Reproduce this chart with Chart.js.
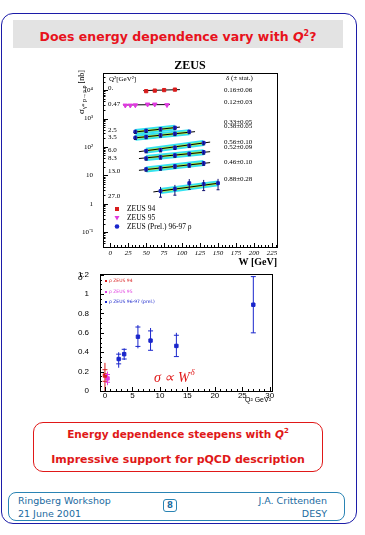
<!DOCTYPE html>
<html>
<head>
<meta charset="utf-8">
<script src="https://cdn.jsdelivr.net/npm/chart.js@4.4.1/dist/chart.umd.min.js"></script>
<style>
  * { box-sizing: border-box; }
  body { margin:0; width:365px; height:535px; position:relative; overflow:hidden; background:#fff; font-family:"DejaVu Sans", sans-serif; }
  .abs { position:absolute; }
  #frame { left:1px; top:13px; width:356px; height:511px; border:1.5px solid #1c1ca8; border-radius:12px; }
  #title { left:13px; top:20px; width:330px; height:28px; background:#e3e3e3; color:#e8121c; font-weight:bold; font-size:12.5px; text-align:center; line-height:28px; white-space:nowrap; }
  #note { left:33px; top:422px; width:290px; height:50px; border:1.3px solid #e01818; border-radius:10px; color:#e01818; font-weight:bold; text-align:center; white-space:nowrap; }
  #note .l1 { position:absolute; left:0; right:0; top:4px; font-size:10.5px; }
  #note .l2 { position:absolute; left:0; right:0; top:30px; font-size:11px; }
  #foot { left:8px; top:492px; width:337px; height:29px; border:1.2px solid #2a84b4; border-radius:8px; color:#1a6aa0; font-size:9.5px; }
  #foot div { position:absolute; white-space:nowrap; }
  #page { left:163px; top:499px; width:14px; height:13px; border:1.2px solid #2a84b4; border-radius:3px; color:#1a6aa0; font-size:8.5px; text-align:center; line-height:11px; font-weight:bold; }
  canvas { position:absolute; }
</style>
</head>
<body>
<div id="frame" class="abs"></div>
<div id="title" class="abs">Does energy dependence vary with <i>Q</i><sup style="font-size:8px">2</sup>?</div>

<canvas id="topChart" width="232" height="214" style="left:55px;top:56px"></canvas>
<canvas id="botChart" width="230" height="150" style="left:55px;top:262px"></canvas>

<div id="note" class="abs">
  <div class="l1">Energy dependence steepens with <i>Q</i><sup style="font-size:7px">2</sup></div>
  <div class="l2">Impressive support for pQCD description</div>
</div>

<div id="foot" class="abs">
  <div style="left:9px;top:2px">Ringberg Workshop</div>
  <div style="left:9px;top:15px">21 June 2001</div>
  <div style="right:17px;top:2px">J.A. Crittenden</div>
  <div style="right:17px;top:15px">DESY</div>
</div>
<div id="page" class="abs">8</div>

<script>
// ---- top panel: sigma(gamma* p -> rho p) vs W, one row per Q2 bin ----
const q2Bins = ['0.', '0.47', '2.5', '3.5', '6.0', '8.3', '13.0', '27.0'];
const deltaText = ['0.16±0.06', '0.12±0.03', '0.33±0.05', '0.38±0.05', '0.56±0.10', '0.52±0.09', '0.46±0.10', '0.88±0.28'];

const wZeus94 = [50, 62, 75, 90];
const sigZeus94 = [9200, 9600, 10000, 10400];
const wZeus95 = [21, 28, 35, 52, 62, 79];
const sigZeus95 = [2900, 2900, 2950, 3150, 3150, 3000];

// ZEUS (prel.) 96-97, Q2 = 2.5, 3.5, 6.0, 8.3, 13.0, 27.0
const wBlue = [[35, 50, 70, 90], [35, 50, 70, 90, 110], [50, 70, 90, 110, 130], [50, 70, 90, 110, 130], [50, 70, 90, 110, 130], [70, 90, 110, 130, 150]];
const sigBlue = [[347, 376, 427, 479], [214, 229, 260, 295, 347], [73, 79, 96, 113, 140], [40, 44, 51, 58, 66], [16.5, 18, 21, 23, 27], [2.8, 3.3, 5.3, 4.9, 5.3]];
const errBlue = [[50, 55, 65, 75], [32, 35, 40, 45, 55], [11, 12, 15, 18, 22], [6, 7, 8, 9, 11], [2.6, 2.9, 3.4, 3.8, 4.6], [1.1, 1.3, 2.1, 2.0, 2.2]];

// fit lines (all 8 rows) and error bands (blue rows)
const fitW = [[46, 97], [18, 83], [32, 97], [32, 118], [40, 139], [40, 139], [40, 139], [60, 151]];
const fitSig = [[9600, 10400], [3000, 3100], [330, 500], [205, 345], [68, 148], [39, 68], [15, 28], [2.6, 5.3]];
const bandW = [[35, 90], [35, 110], [50, 130], [50, 130], [50, 130], [70, 150]];
const bandSig = [[337, 478], [209, 330], [74, 138], [41, 65], [16, 27], [2.8, 5.2]];

const wTicks = [0, 25, 50, 75, 100, 125, 150, 175, 200, 225];
const sigTicks = [0.1, 1, 10, 100, 1000, 10000];
const sigTickLabels = ['10⁻¹', '1', '10', '10²', '10³', '10⁴'];

// ---- bottom panel: delta vs Q2 ----
const q2Delta = [0, 0.47, 2.5, 3.5, 6.0, 8.3, 13.0, 27.0];
const deltaVal = [0.16, 0.13, 0.33, 0.38, 0.56, 0.52, 0.465, 0.89];
const deltaStat = [0.06, 0.04, 0.05, 0.05, 0.10, 0.10, 0.11, 0.29];
const deltaTotUp = [0.13, 0.07, 0.07, 0.06, 0.12, 0.13, 0.135, 0.29];
const deltaTotDn = [0.16, 0.07, 0.09, 0.06, 0.12, 0.10, 0.11, 0.29];
const q2Ticks = [0, 5, 10, 15, 20, 25, 30];
const deltaTicks = [0, 0.2, 0.4, 0.6, 0.8, 1.0, 1.2];

const RED = '#d81c1c', MAG = '#e03ae0', BLUE = '#1a26cc';
const OX = 55, OY = 56;   // top canvas offset on page

function pts(xs, ys) { return xs.map((v, i) => ({ x: v, y: ys[i] })); }

const topSets = [];
topSets.push({ data: pts(wZeus94, sigZeus94), pointStyle: 'rect', pointRadius: 2.3, backgroundColor: RED, borderColor: RED, order: 0 });
topSets.push({ data: pts(wZeus95, sigZeus95), pointStyle: 'triangle', rotation: 180, pointRadius: 2.6, backgroundColor: MAG, borderColor: MAG, order: 0 });
wBlue.forEach((w, i) => {
  topSets.push({ data: pts(w, sigBlue[i]), errs: errBlue[i], pointStyle: 'rect', pointRadius: 2, backgroundColor: BLUE, borderColor: BLUE, order: 0 });
});
fitW.forEach((w, i) => {
  topSets.push({ data: pts(w, fitSig[i]), showLine: true, borderColor: '#000', borderWidth: 1, pointRadius: 0, order: 1 });
});
bandW.forEach((w, i) => {
  topSets.push({ data: pts(w, bandSig[i]), showLine: true, borderColor: '#b4ec44', borderWidth: 2.4, pointRadius: 0, order: 2 });
  topSets.push({ data: pts(w, bandSig[i]), showLine: true, borderColor: '#34e2f0', borderWidth: 6, pointRadius: 0, order: 3 });
});

const topDeco = {
  id: 'topDeco',
  afterDatasetsDraw(chart) {
    const { ctx, chartArea: { left, top, right, bottom }, scales: { x, y } } = chart;
    ctx.save();
    // error bars
    ctx.strokeStyle = '#101070';
    ctx.lineWidth = 1;
    chart.data.datasets.forEach((ds, i) => {
      if (!ds.errs) return;
      chart.getDatasetMeta(i).data.forEach((p, j) => {
        const v = ds.data[j].y, e = ds.errs[j];
        const y1 = y.getPixelForValue(v + e), y2 = y.getPixelForValue(v - e);
        ctx.beginPath();
        ctx.moveTo(p.x, y1); ctx.lineTo(p.x, y2);
        ctx.moveTo(p.x - 1.5, y2); ctx.lineTo(p.x + 1.5, y2);
        ctx.stroke();
      });
    });
    // frame + inward ticks
    ctx.strokeStyle = '#000';
    ctx.strokeRect(left + 0.5, top + 0.5, right - left, bottom - top);
    ctx.beginPath();
    for (let w = 0; w <= 230; w += 5) {
      const px = Math.round(x.getPixelForValue(w)) + 0.5;
      const len = w % 25 === 0 ? 4 : 2;
      ctx.moveTo(px, bottom); ctx.lineTo(px, bottom - len);
    }
    for (let d = -2; d <= 4; d++) {
      for (let m = 1; m <= 9; m++) {
        const v = m * Math.pow(10, d);
        if (v < y.min || v > y.max) continue;
        const py = Math.round(y.getPixelForValue(v)) + 0.5;
        ctx.moveTo(left, py); ctx.lineTo(left + (m === 1 ? 5 : 2.5), py);
      }
    }
    ctx.stroke();

    // x tick labels
    ctx.fillStyle = '#000';
    ctx.textBaseline = 'middle';
    ctx.textAlign = 'center';
    ctx.font = 'italic 7px "Liberation Serif"';
    wTicks.forEach(w => ctx.fillText(String(w), x.getPixelForValue(w), bottom + 6));

    // texts (page coordinates shifted to canvas)
    ctx.font = 'bold 12px "Liberation Serif"';
    ctx.fillText('ZEUS', 190 - OX, 66 - OY);

    ctx.textAlign = 'left';
    ctx.font = '7px "Liberation Serif"';
    ctx.fillText('Q²[GeV²]', 109 - OX, 79 - OY);
    const rowY = [88, 104, 130, 137, 150, 158, 171, 196];
    q2Bins.forEach((t, i) => ctx.fillText(t, 108 - OX, rowY[i] - OY));

    ctx.fillText('δ (± stat.)', 226 - OX, 78 - OY);
    const dY = [90, 102, 122, 126, 142, 147, 162, 179];
    deltaText.forEach((t, i) => ctx.fillText(t, 224 - OX, dY[i] - OY));

    // legend
    ctx.font = '7.5px "Liberation Serif"';
    ctx.fillStyle = RED; ctx.fillRect(115 - OX, 207 - OY, 4, 4);
    ctx.fillStyle = MAG;
    ctx.beginPath(); ctx.moveTo(114.5 - OX, 216 - OY); ctx.lineTo(119.5 - OX, 216 - OY); ctx.lineTo(117 - OX, 220.5 - OY); ctx.fill();
    ctx.fillStyle = BLUE;
    ctx.beginPath(); ctx.arc(117 - OX, 226.5 - OY, 2.3, 0, Math.PI * 2); ctx.fill();
    ctx.fillStyle = '#000';
    ctx.fillText('ZEUS 94', 127 - OX, 209 - OY);
    ctx.fillText('ZEUS 95', 127 - OX, 218 - OY);
    ctx.fillText('ZEUS (Prel.) 96-97 ρ', 127 - OX, 227 - OY);

    // x title
    ctx.textAlign = 'right';
    ctx.font = 'bold 10px "Liberation Serif"';
    ctx.fillText('W [GeV]', 277 - OX, 262 - OY);

    // y title, rotated
    ctx.translate(82 - OX, 92 - OY);
    ctx.rotate(-Math.PI / 2);
    ctx.textAlign = 'left';
    const parts = [['σ', '9px "Liberation Serif"', 0], ['γ* p→ρ p', '6px "Liberation Serif"', 2], [' [nb]', '8px "Liberation Serif"', 0]];
    let total = 0;
    parts.forEach(p => { ctx.font = p[1]; total += ctx.measureText(p[0]).width; });
    let cx = -total / 2;
    parts.forEach(p => { ctx.font = p[1]; ctx.fillText(p[0], cx, p[2]); cx += ctx.measureText(p[0]).width; });
    ctx.restore();
  }
};

new Chart(document.getElementById('topChart'), {
  type: 'scatter',
  data: { datasets: topSets },
  options: {
    responsive: false,
    animation: false,
    devicePixelRatio: 1,
    layout: { padding: { top: 17, right: 10, left: 0, bottom: 0 } },
    plugins: { legend: { display: false }, tooltip: { enabled: false } },
    scales: {
      x: {
        type: 'linear', min: -10, max: 232,
        grid: { display: false }, border: { display: false },
        afterBuildTicks: s => { s.ticks = wTicks.map(v => ({ value: v })); },
        afterFit: s => { s.height = 23; },
        ticks: { display: false }
      },
      y: {
        type: 'logarithmic', min: 0.03, max: 40000,
        grid: { display: false }, border: { display: false },
        afterBuildTicks: s => { s.ticks = sigTicks.map(v => ({ value: v })); },
        afterFit: s => { s.width = 48; },
        ticks: { color: '#000', font: { family: 'Liberation Serif', size: 7 }, padding: 2, autoSkip: false,
                 callback: (v, i) => sigTickLabels[i] }
      }
    }
  },
  plugins: [topDeco]
});

// ---- bottom chart ----
const BX = 55, BY = 262;
const botSets = [
  { data: pts([q2Delta[0]], [deltaVal[0]]), idx: [0], color: RED },
  { data: pts([q2Delta[1]], [deltaVal[1]]), idx: [1], color: MAG },
  { data: pts(q2Delta.slice(2), deltaVal.slice(2)), idx: [2, 3, 4, 5, 6, 7], color: BLUE }
].map(d => Object.assign(d, { pointStyle: 'rect', pointRadius: 2.4, backgroundColor: d.color, borderColor: d.color }));

const botDeco = {
  id: 'botDeco',
  afterDatasetsDraw(chart) {
    const { ctx, chartArea: { left, top, right, bottom }, scales: { x, y } } = chart;
    ctx.save();
    ctx.lineWidth = 1;
    chart.data.datasets.forEach((ds, i) => {
      ctx.strokeStyle = ds.color;
      chart.getDatasetMeta(i).data.forEach((p, j) => {
        const k = ds.idx[j], v = deltaVal[k];
        const yTop = y.getPixelForValue(v + deltaTotUp[k]);
        const yBot = y.getPixelForValue(Math.max(0, v - deltaTotDn[k]));
        const s1 = y.getPixelForValue(v + deltaStat[k]);
        const s2 = y.getPixelForValue(v - deltaStat[k]);
        ctx.beginPath();
        ctx.moveTo(p.x, yTop); ctx.lineTo(p.x, yBot);
        ctx.moveTo(p.x - 2.5, s1); ctx.lineTo(p.x + 2.5, s1);
        ctx.moveTo(p.x - 2.5, s2); ctx.lineTo(p.x + 2.5, s2);
        ctx.stroke();
      });
    });
    // frame + inward ticks
    ctx.strokeStyle = '#000';
    ctx.strokeRect(left + 0.5, top + 0.5, right - left, bottom - top);
    ctx.beginPath();
    for (let q = 0; q <= 30; q++) {
      const px = Math.round(x.getPixelForValue(q)) + 0.5;
      const len = q % 5 === 0 ? 4 : 2;
      ctx.moveTo(px, bottom); ctx.lineTo(px, bottom - len);
    }
    for (let k = 0; k <= 24; k++) {
      const py = Math.round(y.getPixelForValue(k * 0.05)) + 0.5;
      ctx.moveTo(left, py); ctx.lineTo(left + (k % 4 === 0 ? 4 : 2), py);
    }
    ctx.stroke();

    ctx.textBaseline = 'middle';
    ctx.fillStyle = '#000';
    ctx.textAlign = 'center';
    ctx.font = '8px "Liberation Sans"';
    q2Ticks.forEach(q => ctx.fillText(String(q), x.getPixelForValue(q), bottom + 5));

    ctx.textAlign = 'left';
    ctx.font = 'italic 10px "Liberation Serif"';
    ctx.fillText('δ', 78 - BX, 277 - BY);
    ctx.font = '7px "Liberation Sans"';
    ctx.textAlign = 'right';
    ctx.fillText('Q² GeV²', 271 - BX, 400 - BY);

    // tiny legend
    ctx.textAlign = 'left';
    ctx.font = '4.5px "DejaVu Sans"';
    [['ρ ZEUS 94', RED, 281], ['ρ ZEUS 95', MAG, 292], ['ρ ZEUS 96-97 (prel.)', BLUE, 302]].forEach(r => {
      ctx.fillStyle = r[1];
      ctx.fillRect(105 - BX, r[2] - 1 - BY, 2, 2);
      ctx.fillText(r[0], 109 - BX, r[2] - BY);
    });

    // sigma ~ W^delta
    ctx.fillStyle = '#e01818';
    ctx.textBaseline = 'alphabetic';
    ctx.font = 'italic 14px "Liberation Serif"';
    const txt = 'σ ∝ W';
    ctx.fillText(txt, 154 - BX, 382 - BY);
    const tw = ctx.measureText(txt).width;
    ctx.font = 'italic 9px "Liberation Serif"';
    ctx.fillText('δ', 154 - BX + tw + 1, 375 - BY);
    ctx.restore();
  }
};

new Chart(document.getElementById('botChart'), {
  type: 'scatter',
  data: { datasets: botSets },
  options: {
    responsive: false,
    animation: false,
    devicePixelRatio: 1,
    layout: { padding: { top: 12, right: 13, left: 0, bottom: 0 } },
    plugins: { legend: { display: false }, tooltip: { enabled: false } },
    scales: {
      x: {
        type: 'linear', min: -0.9, max: 30.4,
        grid: { display: false }, border: { display: false },
        afterBuildTicks: s => { s.ticks = q2Ticks.map(v => ({ value: v })); },
        afterFit: s => { s.height = 21; },
        ticks: { display: false }
      },
      y: {
        type: 'linear', min: 0, max: 1.207,
        grid: { display: false }, border: { display: false },
        afterBuildTicks: s => { s.ticks = deltaTicks.map(v => ({ value: v })); },
        afterFit: s => { s.width = 45; },
        ticks: { color: '#000', font: { family: 'Liberation Sans', size: 8 }, padding: 3, autoSkip: false,
                 callback: v => String(Math.round(v * 10) / 10) }
      }
    }
  },
  plugins: [botDeco]
});
</script>
</body>
</html>
